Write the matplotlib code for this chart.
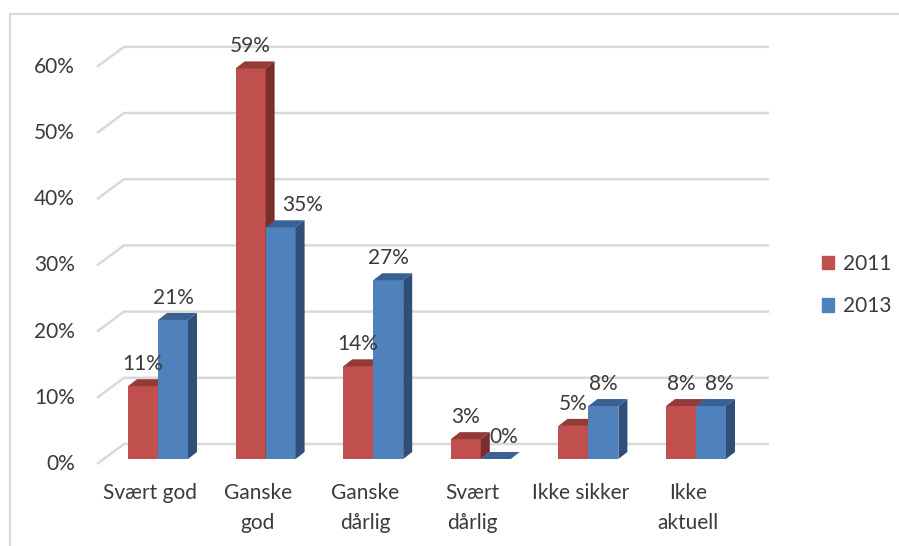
import matplotlib.pyplot as plt
import matplotlib.patches as mpatches
from matplotlib.lines import Line2D
import numpy as np

plt.rcParams['font.family'] = ['Lato', 'DejaVu Sans']

categories = ["Svært god", "Ganske\ngod", "Ganske\ndårlig", "Svært\ndårlig", "Ikke sikker", "Ikke\naktuell"]
v2011 = [11, 59, 14, 3, 5, 8]
v2013 = [21, 35, 27, 0, 8, 8]
series = ["2011", "2013"]
yticks = [0, 10, 20, 30, 40, 50, 60]

# colours: front, top, side
red = ("#C0504D", "#943A37", "#7A2E2B")
blue = ("#4F81BD", "#3A6194", "#2F4E78")
grid_c = "#D9D9D9"
txt_c = "#3A3A3A"
fs = 15

# pixel scale of the data space
PX_X = 107.6   # px per category
PX_Y = 6.62    # px per percent
W, H = 899, 546

fig = plt.figure(figsize=(W / 100, H / 100), dpi=100)
ax = fig.add_axes([0, 0, 1, 1])
ax.set_xlim(-158 / PX_X, (W - 158) / PX_X)
ax.set_ylim((459 - H) / PX_Y, 459 / PX_Y)
ax.axis("off")

def dx(px):
    return px / PX_X

def dy(px):
    return px / PX_Y

# chart frame (top and left edge)
fig.add_artist(Line2D([10 / W, 10 / W], [0, 1 - 14 / H], color=grid_c, lw=1.5))
fig.add_artist(Line2D([10 / W, 1], [1 - 14 / H, 1 - 14 / H], color=grid_c, lw=1.5))

# gridlines: front diagonal then back wall
fx, bx, rx = dx(97 - 158), dx(124 - 158), dx(769 - 158)
f_off, b_off = -dy(5), dy(15)
for v in yticks:
    ax.plot([fx, bx, rx], [v + f_off, v + b_off, v + b_off], color=grid_c, lw=1.8,
            solid_capstyle="butt", zorder=1)
    ax.text(dx(75 - 158), v + f_off, f"{v}%", ha="right", va="center",
            fontsize=fs, color=txt_c)

bw = dx(30)
ddx, ddy = dx(9), dy(7)

def bar3d(x0, v, cols):
    x1 = x0 + bw
    ax.add_patch(mpatches.Rectangle((x0, 0), bw, v, facecolor=cols[0], edgecolor="none", zorder=3))
    ax.add_patch(mpatches.Polygon([(x0, v), (x1, v), (x1 + ddx, v + ddy), (x0 + ddx, v + ddy)],
                                  closed=True, facecolor=cols[1], edgecolor="none", zorder=3))
    ax.add_patch(mpatches.Polygon([(x1, 0), (x1 + ddx, ddy), (x1 + ddx, v + ddy), (x1, v)],
                                  closed=True, facecolor=cols[2], edgecolor="none", zorder=3))

for i, (a, b) in enumerate(zip(v2011, v2013)):
    bar3d(i - bw, a, red)
    bar3d(i, b, blue)
    ax.text(i - bw / 2, a + dy(22), f"{a}%", ha="center", va="center", fontsize=fs, color=txt_c, zorder=5)
    shift = 0
    if a - b > 5 and b > 0:
        shift = dx(22)
    elif a >= b:
        shift = dx(8)
    ax.text(i + bw / 2 + shift, b + dy(22), f"{b}%", ha="center", va="center", fontsize=fs,
            color=txt_c, zorder=5)
    for j, line in enumerate(categories[i].split("\n")):
        ax.text(i - dx(8), -dy(34 + 30 * j), line, ha="center", va="center", fontsize=fs,
                color=txt_c)

handles = [mpatches.Patch(color=red[0]), mpatches.Patch(color=blue[0])]
ax.legend(handles, series, loc="center left", bbox_to_anchor=(803 / W, 1 - 285 / H),
          frameon=False, fontsize=fs, handlelength=0.6, handleheight=0.6,
          handletextpad=0.4, labelspacing=1.1, labelcolor=txt_c)

fig.savefig("out.png", dpi=100)
